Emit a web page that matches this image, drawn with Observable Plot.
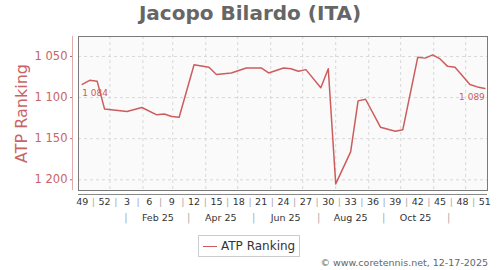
<!DOCTYPE html>
<html><head><meta charset="utf-8">
<script src="https://cdn.jsdelivr.net/npm/d3@7"></script>
<script src="https://cdn.jsdelivr.net/npm/@observablehq/plot@0.6"></script>
<style>
body{margin:0;background:#fff;font-family:"DejaVu Sans",sans-serif;}
#wrap{position:relative;width:500px;height:270px;overflow:hidden;background:#fff}
#title{position:absolute;left:0;top:-1px;width:500px;height:28px;line-height:28px;text-align:center;font-weight:bold;font-size:20px;color:#666}
#chart{position:absolute;left:0;top:28px}
#legend{position:absolute;left:198px;top:235px;width:100px;height:20px;border:1px solid #ccc;background:#fff}
#legend .sw{position:absolute;left:4px;top:9.5px;width:14px;height:0;border-top:1.5px solid #cd5c5c}
#legend .lb{position:absolute;left:22px;top:0;line-height:20px;font-size:12px;color:#333;white-space:nowrap}
#caption{position:absolute;right:12px;top:257px;line-height:12px;font-size:9.5px;color:#666;white-space:nowrap}
</style></head>
<body>
<div id="wrap">
  <div id="title"></div>
  <div id="chart"></div>
  <div id="legend"><div class="sw"></div><div class="lb"></div></div>
  <div id="caption"></div>
</div>
<script>
const titleText = "Jacopo Bilardo (ITA)";
const seriesName = "ATP Ranking";
const captionText = "© www.coretennis.net, 12-17-2025";

const dates = ["2024-12-06","2024-12-13","2024-12-20","2024-12-27","2025-01-17","2025-01-31",
  "2025-02-14","2025-02-21","2025-02-28","2025-03-07","2025-03-21","2025-04-04","2025-04-11",
  "2025-04-25","2025-05-09","2025-05-23","2025-05-30","2025-06-13","2025-06-20","2025-06-27",
  "2025-07-04","2025-07-18","2025-07-25","2025-08-01","2025-08-15","2025-08-22","2025-08-29",
  "2025-09-12","2025-09-26","2025-10-03","2025-10-17","2025-10-24","2025-10-31","2025-11-07",
  "2025-11-14","2025-11-21","2025-12-05","2025-12-12","2025-12-19"];
const ranks = [1084,1079,1080,1114,1117,1112,1121,1120,1123,1124,1060,1063,1072,
  1070,1064,1064,1070,1064,1065,1068,1066,1088,1065,1205,1166,1104,1102,
  1136,1141,1139,1051,1052,1048,1053,1062,1063,1084,1087,1089];

const weekLabels = ["49","52","3","6","9","12","15","18","21","24","27","30","33","36","39","42","45","48","51"];
const weekDates = ["2024-12-06","2024-12-27","2025-01-17","2025-02-07","2025-02-28","2025-03-21",
  "2025-04-11","2025-05-02","2025-05-23","2025-06-13","2025-07-04","2025-07-25","2025-08-15",
  "2025-09-05","2025-09-26","2025-10-17","2025-11-07","2025-11-28","2025-12-19"];
const monthLabels = ["Feb 25","Apr 25","Jun 25","Aug 25","Oct 25"];
const monthLabelDates = ["2025-02-15","2025-04-15","2025-06-15","2025-08-15","2025-10-15"];
const monthSepDates = ["2025-01-16","2025-03-16","2025-05-16","2025-07-16","2025-09-15","2025-11-15"];
const gridDates = ["2025-01-01","2025-02-01","2025-03-01","2025-04-01","2025-05-01","2025-06-01",
  "2025-07-01","2025-08-01","2025-09-01","2025-10-01","2025-11-01","2025-12-01"];
const yTicks = [1050,1100,1150,1200];
const xDomain = ["2024-12-02T12:00Z","2025-12-21T12:00Z"];
const yDomain = [1025.7,1213];

const red = "#cd5c5c";
const redText = "#c96464";
const fmt = v => d3.format(",")(v).replace(",", " ");

const data = dates.map((d,i)=>({date:new Date(d), rank:ranks[i]}));
const weeks = weekDates.map((d,i)=>({date:new Date(d), label:weekLabels[i]}));
const weekSeps = weeks.slice(1).map((w,i)=>({date:new Date((+w.date + +weeks[i].date)/2)}));
const months = monthLabelDates.map((d,i)=>({date:new Date(d), label:monthLabels[i]}));
const monthSeps = monthSepDates.map(d=>({date:new Date(d)}));
const grids = gridDates.map(d=>new Date(d));
const x0 = new Date(xDomain[0]);

document.getElementById("title").textContent = titleText;
document.querySelector("#legend .lb").textContent = seriesName;
document.getElementById("caption").textContent = captionText;

const plot = Plot.plot({
  width: 500, height: 202,
  marginTop: 8, marginBottom: 40, marginLeft: 78, marginRight: 13,
  style: {fontFamily: "DejaVu Sans", background: "transparent"},
  x: {type: "utc", domain: xDomain.map(d=>new Date(d)), axis: null},
  y: {domain: yDomain, reverse: true, axis: null},
  marks: [
    Plot.frame({fill: "#fafafa", stroke: null}),
    Plot.ruleX(grids, {stroke: "#d8d8d8", strokeDasharray: "3,3"}),
    Plot.ruleY(yTicks, {stroke: "#d8d8d8", strokeDasharray: "3,3"}),
    Plot.frame({stroke: "#7a7a7a"}),
    Plot.ruleX([x0], {dx: -6, stroke: "#e3aaaa"}),
    Plot.axisY({ticks: yTicks, tickFormat: fmt, tickSize: 2, tickPadding: 3, dx: -6,
      fontSize: 11.5, color: redText, label: null}),
    Plot.text([seriesName], {frameAnchor: "left", textAnchor: "middle", rotate: -90, dx: -57, fontSize: 16, fill: redText}),
    Plot.ruleY([yDomain[1]], {dy: 4, stroke: "#888"}),
    Plot.text(weeks, {x: "date", text: "label", frameAnchor: "bottom", dy: 14, fontSize: 9.5, fill: "#333"}),
    Plot.text(weekSeps, {x: "date", text: () => "|", frameAnchor: "bottom", dy: 14, fontSize: 9.5, fill: "#aaa"}),
    Plot.text(months, {x: "date", text: "label", frameAnchor: "bottom", dy: 30, fontSize: 9.5, fill: "#333"}),
    Plot.text(monthSeps, {x: "date", text: () => "|", frameAnchor: "bottom", dy: 30.5, fontSize: 10, fill: "#aaa"}),
    Plot.lineY(data, {x: "date", y: "rank", stroke: red, strokeWidth: 1.5}),
    Plot.text([data[0]], {x: "date", y: "rank", text: d => fmt(d.rank), textAnchor: "start", dy: 8.5, fontSize: 9, fill: red}),
    Plot.text([data[data.length-1]], {x: "date", y: "rank", text: d => fmt(d.rank), textAnchor: "end", dy: 8.5, fontSize: 9, fill: red})
  ]
});
document.getElementById("chart").appendChild(plot);
</script>
</body></html>
